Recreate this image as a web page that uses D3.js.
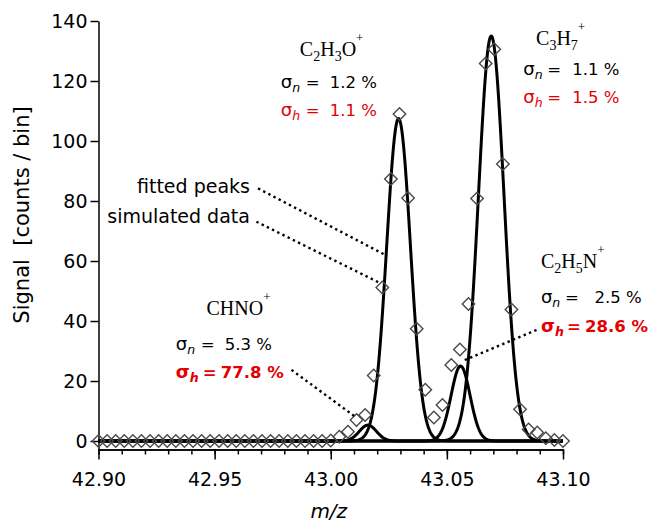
<!DOCTYPE html>
<html>
<head>
<meta charset="utf-8">
<script src="https://cdn.jsdelivr.net/npm/d3@7"></script>
<style>
  body { margin: 0; background: #fff; }
  svg { display: block; }
</style>
</head>
<body>
<svg id="chart" width="651" height="523"></svg>
<script>
// ---- data ---------------------------------------------------------------
// bin centres of the simulated spectrum (m/z)
const mzBins = [
  42.9000, 42.9037, 42.9074, 42.9111, 42.9148, 42.9185, 42.9222, 42.9259, 42.9296, 42.9333,
  42.9370, 42.9407, 42.9444, 42.9481, 42.9519, 42.9556, 42.9593, 42.9630, 42.9667, 42.9704,
  42.9741, 42.9778, 42.9815, 42.9852, 42.9889, 42.9926, 42.9963, 43.0000, 43.0037, 43.0074,
  43.0111, 43.0148, 43.0185, 43.0222, 43.0259, 43.0296, 43.0333, 43.0370, 43.0407, 43.0444,
  43.0481, 43.0519, 43.0556, 43.0593, 43.0630, 43.0667, 43.0704, 43.0741, 43.0778, 43.0815,
  43.0852, 43.0889, 43.0926, 43.0963, 43.1000
];
// simulated counts per bin
const counts = [
  0, 0, 0, 0, 0, 0, 0, 0, 0, 0,
  0, 0, 0, 0, 0, 0, 0, 0, 0, 0,
  0, 0, 0, 0, 0, 0, 0, 0.2, 1.4, 3.1,
  7.0, 8.7, 21.8, 51.2, 87.3, 109.0, 81.0, 37.4, 17.1, 7.8,
  12.0, 25.3, 30.5, 45.7, 80.8, 125.8, 130.6, 92.3, 43.8, 10.6,
  3.8, 2.8, 0.9, 0.3, 0
];

// fitted gaussian peaks
const peakIons    = ["CHNO+", "C2H3O+", "C2H5N+", "C3H7+"];
const peakCentres = [43.0160, 43.0292, 43.0559, 43.0691];
const peakHeights = [5.3, 107.5, 25.0, 135.0];
const peakSigmas  = [0.0037, 0.0051, 0.0041, 0.0055];

// annotation texts
const labelFormula = ["C_2H_3O^+", "C_3H_7^+", "CHNO^+", "C_2H_5N^+"];
const sigmaN       = ["1.2 %", "1.1 %", "5.3 %", "2.5 %"];
const sigmaH       = ["1.1 %", "1.5 %", "77.8 %", "28.6 %"];
const sigmaHBold   = [false, false, true, true];

// axis ticks
const yTicks = [0, 20, 40, 60, 80, 100, 120, 140];
const xMajorTicks = [42.90, 42.95, 43.00, 43.05, 43.10];
const xMinorTicks = d3.range(0, 21).map(i => +(42.90 + i * 0.01).toFixed(2));

// ---- layout ---------------------------------------------------------------
const svg = d3.select("#chart");
const x = d3.scaleLinear().domain([42.90, 43.10]).range([98.5, 563]);
const y = d3.scaleLinear().domain([-2.83, 140]).range([449.5, 21]);

const SANS = "'DejaVu Sans', sans-serif";
const SERIF = "'Liberation Serif', 'DejaVu Serif', serif";
const RED = "#e30000";

// ---- axes -----------------------------------------------------------------
function styleAxis(g) {
  g.select(".domain").attr("stroke", "#000").attr("stroke-width", 1.5);
  g.selectAll(".tick line").attr("stroke", "#000").attr("stroke-width", 1.5);
  g.selectAll("text").attr("font-family", SANS).attr("font-size", 19).attr("fill", "#000");
}

const gxMinor = svg.append("g").attr("transform", `translate(0,${y.range()[0]})`)
  .call(d3.axisBottom(x).tickValues(xMinorTicks).tickSize(5).tickSizeOuter(0).tickFormat(""));
styleAxis(gxMinor);

const gx = svg.append("g").attr("transform", `translate(0,${y.range()[0]})`)
  .call(d3.axisBottom(x).tickValues(xMajorTicks).tickSize(10).tickSizeOuter(0).tickFormat(d3.format(".2f")));
styleAxis(gx);
gx.selectAll(".tick text").attr("y", 36).attr("dy", 0);

const gy = svg.append("g").attr("transform", `translate(${x.range()[0]},0)`)
  .call(d3.axisLeft(y).tickValues(yTicks).tickSize(8).tickSizeOuter(0));
styleAxis(gy);
gy.selectAll(".tick text").attr("x", -11);

svg.append("text")
  .attr("transform", `translate(29,215) rotate(-90)`)
  .attr("text-anchor", "middle")
  .attr("font-family", SANS).attr("font-size", 21)
  .attr("xml:space", "preserve")
  .text("Signal  [counts / bin]");

svg.append("text")
  .attr("x", (x.range()[0] + x.range()[1]) / 2 - 2)
  .attr("y", 518)
  .attr("text-anchor", "middle")
  .attr("font-family", SANS).attr("font-size", 20).attr("font-style", "italic")
  .text("m/z");

// ---- fitted peaks -------------------------------------------------------
const sampleMz = d3.range(0, 801).map(i => 42.90 + i * 0.2 / 800);
const line = d3.line().x(d => x(d[0])).y(d => y(d[1]));

peakIons.forEach((ion, i) => {
  const pts = sampleMz.map(m => {
    const z = (m - peakCentres[i]) / peakSigmas[i];
    return [m, peakHeights[i] * Math.exp(-0.5 * z * z)];
  });
  svg.append("path")
    .attr("d", line(pts))
    .attr("fill", "none")
    .attr("stroke", "#000")
    .attr("stroke-width", 3)
    .attr("stroke-linejoin", "round");
});

// ---- simulated data (diamonds) -------------------------------------------
const diamond = d3.symbol().type(d3.symbolSquare).size(78);
svg.append("g").selectAll("path")
  .data(mzBins.map((m, i) => [m, counts[i]]))
  .join("path")
  .attr("d", diamond)
  .attr("transform", d => `translate(${x(d[0])},${y(d[1])}) rotate(45)`)
  .attr("fill", "none")
  .attr("stroke", "#4a4a4a")
  .attr("stroke-width", 1.4);

// ---- leader lines ---------------------------------------------------------
const leaderFrom = [[42.9687, 84.2], [42.9680, 73.1], [42.9831, 23.7], [43.0886, 37.0]];
const leaderTo   = [[43.0235, 62.0], [43.0211, 52.7], [43.0112, 7.7], [43.0577, 27.0]];
leaderFrom.forEach((p, i) => {
  svg.append("line")
    .attr("x1", x(p[0])).attr("y1", y(p[1]))
    .attr("x2", x(leaderTo[i][0])).attr("y2", y(leaderTo[i][1]))
    .attr("stroke", "#000").attr("stroke-width", 2.4)
    .attr("stroke-dasharray", "2.4 3.4");
});

svg.append("text")
  .attr("x", x(42.9652)).attr("y", y(82.6))
  .attr("text-anchor", "end").attr("font-family", SANS).attr("font-size", 19)
  .text("fitted peaks");
svg.append("text")
  .attr("x", x(42.9652)).attr("y", y(72.6))
  .attr("text-anchor", "end").attr("font-family", SANS).attr("font-size", 19)
  .text("simulated data");

// ---- peak annotations -----------------------------------------------------
// formula anchor, sigma block anchor (data units) and pixel offsets of "=" / value
const annoLayout = [
  { fx: 42.9867, fy: 128.3, sx: 42.9785, sy: [117.7, 108.3], eq: [25, 25], val: [49, 49] },
  { fx: 43.0884, fy: 132.0, sx: 43.0829, sy: [122.0, 112.7], eq: [24, 24], val: [49, 49] },
  { fx: 42.9465, fy: 42.0,  sx: 42.9333, sy: [30.3, 21.0],   eq: [25, 27], val: [49, 45] },
  { fx: 43.0905, fy: 57.7,  sx: 43.0905, sy: [46.0, 36.5],   eq: [24, 26], val: [53.5, 44] }
];

function drawFormula(t, str) {
  const tokens = str.match(/_\d+|\^\+|[A-Z][a-z]?/g);
  let shift = 0;
  tokens.forEach(tok => {
    const ts = t.append("tspan");
    if (tok[0] === "_") {
      ts.attr("font-size", 14).attr("dy", 5 - shift).text(tok.slice(1));
      shift = 5;
    } else if (tok[0] === "^") {
      ts.attr("font-size", 13).attr("dy", -14 - shift).text(tok.slice(1));
      shift = -14;
    } else {
      ts.attr("dy", 0 - shift).text(tok);
      shift = 0;
    }
  });
}

function drawSigma(g, px, py, sub, value, color, bold, eqDx, valDx) {
  const t = g.append("text")
    .attr("x", px).attr("y", py)
    .attr("font-family", SANS).attr("font-size", 16.5)
    .attr("font-weight", bold ? "bold" : "normal")
    .attr("fill", color);
  t.append("tspan").attr("font-size", 18).text("σ");
  t.append("tspan").attr("font-style", "italic").attr("font-size", 12.5).attr("dy", 4).text(sub);
  t.append("tspan").attr("x", px + eqDx).attr("dy", -4).text("=");
  t.append("tspan").attr("x", px + valDx).text(value);
}

const gA = svg.append("g");
labelFormula.forEach((f, i) => {
  const L = annoLayout[i];
  const t = gA.append("text")
    .attr("x", x(L.fx)).attr("y", y(L.fy))
    .attr("font-family", SERIF).attr("font-size", 20).attr("fill", "#000");
  drawFormula(t, f);
  const sx = x(L.sx);
  drawSigma(gA, sx, y(L.sy[0]), "n", sigmaN[i], "#000", false, L.eq[0], L.val[0]);
  drawSigma(gA, sx, y(L.sy[1]), "h", sigmaH[i], RED, sigmaHBold[i], L.eq[1], L.val[1]);
});
</script>
</body>
</html>
